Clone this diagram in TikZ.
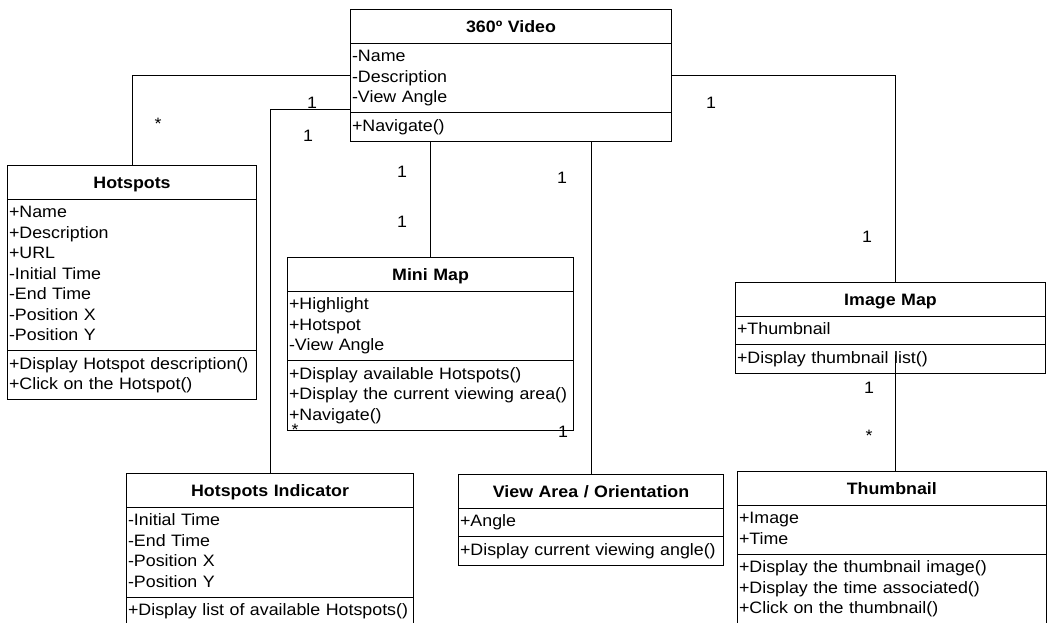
\documentclass[tikz,border=0pt]{standalone}
\usepackage{fontspec}
\setmainfont[FakeStretch=1.08]{Liberation Sans}
\usepackage{tikz}
\usetikzlibrary{shapes.multipart}

\newcommand{\classfont}{\fontsize{16.5}{20.5}\selectfont}
\newcommand{\members}[1]{\strut#1\strut}
\newcommand{\classname}[1]{\hbox to\hsize{\hss\rule[-7pt]{0pt}{25.5pt}\textbf{#1}\hss}}

\begin{document}
\begin{tikzpicture}[x=1pt, y=-1pt,
        umlclass/.style={rectangle split, rectangle split parts=3, draw, line width=1.1pt,
            anchor=north west, inner xsep=1.5pt, inner ysep=3.5pt, align=left, font=\classfont},
        assoc/.style={draw, line width=0.8pt},
        mult/.style={font=\classfont, inner sep=0pt}]
    \useasboundingbox (0,0) rectangle (1047,623);
    \node[umlclass, text width=318pt] (video) at (350,9) {\classname{360º Video}
        \nodepart{two}\members{-Name\\-Description\\-View Angle}
        \nodepart{three}\members{+Navigate()}};
    \node[umlclass, text width=246pt] (hotspots) at (7,165) {\classname{Hotspots}
        \nodepart{two}\members{+Name\\+Description\\+URL\\-Initial Time\\-End Time\\-Position X\\-Position Y}
        \nodepart{three}\members{+Display Hotspot description()\\+Click on the Hotspot()}};
    \node[umlclass, text width=283pt] (minimap) at (287,257) {\classname{Mini Map}
        \nodepart{two}\members{+Highlight\\+Hotspot\\-View Angle}
        \nodepart{three}\members{+Display available Hotspots()\\+Display the current viewing area()\\+Navigate()}};
    \node[umlclass, text width=284pt] (hind) at (126,473) {\classname{Hotspots Indicator}
        \nodepart{two}\members{-Initial Time\\-End Time\\-Position X\\-Position Y}
        \nodepart{three}\members{+Display list of available Hotspots()}};
    \node[umlclass, text width=262pt] (viewarea) at (458,474) {\classname{View Area / Orientation}
        \nodepart{two}\members{+Angle}
        \nodepart{three}\members{+Display current viewing angle()}};
    \node[umlclass, text width=307pt] (imagemap) at (735,282) {\classname{Image Map}
        \nodepart{two}\members{+Thumbnail}
        \nodepart{three}\members{+Display thumbnail list()}};
    \node[umlclass, text width=305.5pt] (thumb) at (737,471) {\classname{Thumbnail}
        \nodepart{two}\members{+Image\\+Time}
        \nodepart{three}\members{+Display the thumbnail image()\\+Display the time associated()\\+Click on the thumbnail()}};

    \draw[assoc] (video.west) -| (hotspots.north);
    \draw[assoc] ([yshift=3.5pt]video.two split west) -| (hind.north);
    \draw[assoc] (minimap.north |- video.south) -- (minimap.north);
    \draw[assoc] (viewarea.north |- video.south) -- (viewarea.north);
    \draw[assoc] (video.east) -| ([xshift=5pt]imagemap.north);
    \draw[assoc] ([xshift=5pt,yshift=19pt]imagemap.south) coordinate (imlist) -- (imlist |- thumb.north);

    \node[mult] (m1) at (158,124) {*};
    \node[mult] (m2) at (312,103) {1};
    \node[mult] (m3) at (308,136) {1};
    \node[mult] (m4) at (402,172) {1};
    \node[mult] (m5) at (402,222) {1};
    \node[mult] (m6) at (562,178) {1};
    \node[mult] (m7) at (711,103) {1};
    \node[mult] (m8) at (867,237) {1};
    \node[mult] (m9) at (869,388) {1};
    \node[mult] (m10) at (869,436) {*};
    \node[mult] (m11) at (295,430) {*};
    \node[mult] (m12) at (563,432) {1};
\end{tikzpicture}
\end{document}
